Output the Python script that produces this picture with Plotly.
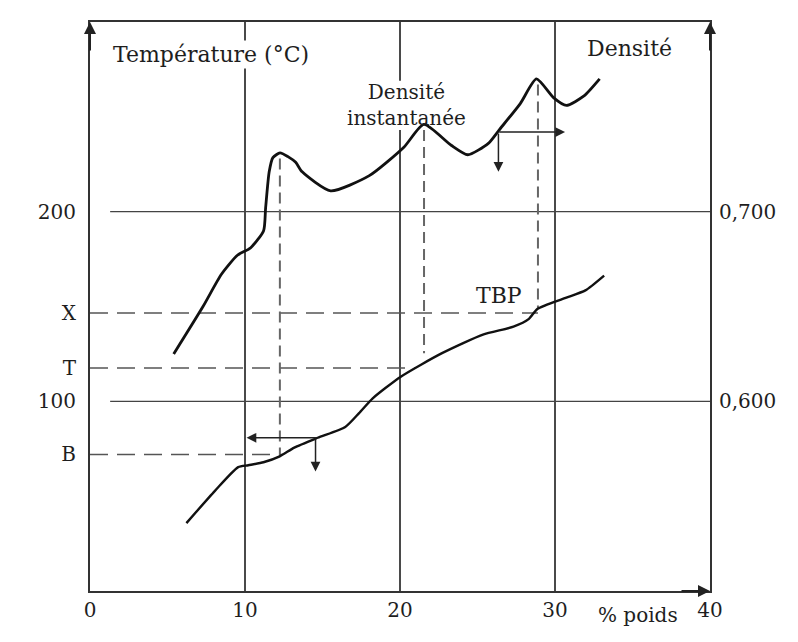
import plotly.graph_objects as go

# ---- data ----
# TBP curve: % poids vs temperature (deg C)
pct_tbp = [6.22, 8.06, 9.56, 10.21, 11.19, 12.24, 13.18, 14.69, 16.47, 17.36,
           18.24, 20.05, 22.71, 25.35, 27.32, 28.32, 28.86, 30.64, 31.96, 33.17]
temp_tbp = [35.8, 52.8, 65.3, 66.3, 67.9, 71.0, 75.6, 80.8, 86.5, 93.8,
            101.6, 113.0, 125.4, 135.2, 139.4, 143.5, 148.7, 154.4, 158.5, 166.3]

# Instantaneous density curve: % poids vs density
pct_dens = [5.40, 7.29, 8.48, 9.51, 10.37, 11.20, 11.33, 11.56, 11.80, 12.26,
            12.77, 13.27, 13.69, 15.52, 18.02, 20.25, 21.54, 23.30, 24.37, 25.70,
            26.39, 27.76, 28.80, 29.92, 30.73, 31.87, 32.88]
dens = [0.625, 0.650, 0.667, 0.677, 0.681, 0.690, 0.702, 0.721, 0.7285, 0.731,
        0.729, 0.726, 0.721, 0.711, 0.719, 0.734, 0.746, 0.735, 0.730, 0.736,
        0.743, 0.757, 0.770, 0.760, 0.756, 0.761, 0.770]

# vertical dashed drop lines (peaks of density -> TBP)
drop_pct = [12.25, 21.55, 28.9]
drop_top = [228, 243, 267]
drop_bottom = [71.0, 125.4, 148.7]

# horizontal dashed reading levels
level_names = ["B", "T", "X"]
level_temp = [72.0, 117.6, 146.6]
level_end_pct = [12.44, 21.0, 28.9]

# axis ticks / grid
x_ticks = [0, 10, 20, 30, 40]
t_grid = [100, 200]
d_ticks = [0.6, 0.7]
d_ticktext = ["0,600", "0,700"]
# vertical grid segments (gaps where the labels sit): (x, T_from, T_to)
vgrid = [(10, 0, 276.5), (10, 289.5, 300), (20, 0, 243), (20, 269, 300), (30, 0, 300)]

# arrows: (tail_x, tail_T, tip_x, tip_T)
arrows = [(14.69, 80.8, 10.1, 80.8), (14.55, 80.8, 14.55, 63.0),
          (26.3, 242.0, 30.65, 242.0), (26.35, 242.0, 26.35, 221.0)]

FONT = "DejaVu Serif"
INK = "#1e1e1e"
GRID = "#444444"

fig = go.Figure()

for xv, t0, t1 in vgrid:
    fig.add_trace(go.Scatter(x=[xv, xv], y=[t0, t1], mode="lines",
                             line=dict(color="#4a4a4a", width=2), hoverinfo="skip", showlegend=False))
for tv in t_grid:
    fig.add_trace(go.Scatter(x=[1.3, 40], y=[tv, tv], mode="lines",
                             line=dict(color=GRID, width=1.4), hoverinfo="skip", showlegend=False))

for t, xe in zip(level_temp, level_end_pct):
    fig.add_trace(go.Scatter(x=[0, xe], y=[t, t], mode="lines",
                             line=dict(color="#555555", width=1.5, dash="18px,9px"),
                             hoverinfo="skip", showlegend=False))

for xv, top, bot in zip(drop_pct, drop_top, drop_bottom):
    fig.add_trace(go.Scatter(x=[xv, xv], y=[top, bot], mode="lines",
                             line=dict(color="#666666", width=2, dash="11px,6px"),
                             hoverinfo="skip", showlegend=False))

fig.add_trace(go.Scatter(x=pct_tbp, y=temp_tbp, mode="lines", name="TBP",
                         line=dict(color="#111111", width=2.4, shape="spline", smoothing=0.6),
                         showlegend=False))
fig.add_trace(go.Scatter(x=pct_dens, y=dens, mode="lines", yaxis="y2", name="Densité instantanée",
                         line=dict(color="#111111", width=2.8, shape="spline", smoothing=0.6),
                         showlegend=False))

annotations = []
for (x0, y0, x1, y1) in arrows:
    annotations.append(dict(x=x1, y=y1, ax=x0, ay=y0, xref="x", yref="y", axref="x", ayref="y",
                            text="", showarrow=True, arrowhead=2, arrowsize=1.3, arrowwidth=1.5,
                            arrowcolor="#222222"))
# axis arrows
for ax_x, ax_y, dx, dy in [(0, 300, 0, 30), (40, 300, 0, 30), (40, 0, -30, 0)]:
    annotations.append(dict(x=ax_x, y=ax_y, ax=dx, ay=dy, xref="x", yref="y", text="",
                            showarrow=True, arrowhead=2, arrowsize=1.2, arrowwidth=2,
                            arrowcolor="#222222"))

txt = dict(family=FONT, size=22, color=INK)
annotations += [
    dict(x=7.8, y=283, xref="x", yref="y", text="Température (°C)", showarrow=False,
         font=txt, bgcolor="white"),
    dict(x=34.8, y=286, xref="x", yref="y", text="Densité", showarrow=False, font=txt),
    dict(x=20.4, y=256, xref="x", yref="y", text="Densité<br>instantanée", showarrow=False,
         font=dict(family=FONT, size=20, color=INK), align="center"),
    dict(x=26.4, y=156, xref="x", yref="y", text="TBP", showarrow=False, font=txt),
    dict(x=0.884, y=-0.043, xref="paper", yref="paper", xanchor="center", yanchor="middle",
         text="% poids", showarrow=False, font=dict(family=FONT, size=20, color=INK)),
]

fig.update_layout(
    width=782, height=626,
    margin=dict(l=82, r=80, t=12, b=35),
    paper_bgcolor="white", plot_bgcolor="white",
    showlegend=False,
    font=dict(family=FONT, size=20, color=INK),
    xaxis=dict(range=[0, 40], tickvals=x_ticks, ticktext=[str(v) for v in x_ticks],
               showgrid=False, zeroline=False, showline=True, linecolor="#333333", linewidth=2,
               mirror=True, ticks="", ticklen=0, ticklabelstandoff=0),
    yaxis=dict(range=[0, 300], tickvals=[level_temp[0], t_grid[0], level_temp[1], level_temp[2], t_grid[1]],
               ticktext=[level_names[0], "100", level_names[1], level_names[2], "200"],
               showgrid=False, zeroline=False, showline=True, linecolor="#333333", linewidth=2,
               ticks="", ticklen=0, ticklabelstandoff=8),
    yaxis2=dict(range=[0.5, 0.8], overlaying="y", side="right", tickvals=d_ticks, ticktext=d_ticktext,
                showgrid=False, zeroline=False, showline=True, linecolor="#333333", linewidth=2,
                ticks="", ticklen=0, ticklabelstandoff=3),
    annotations=annotations,
)

fig.write_html("out.html")
